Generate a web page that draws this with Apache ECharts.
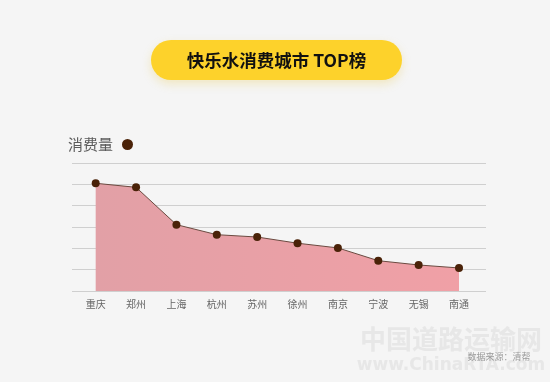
<!DOCTYPE html>
<html><head><meta charset="utf-8">
<script src="https://cdn.jsdelivr.net/npm/echarts@6/dist/echarts.min.js"></script>
<style>html,body{margin:0;padding:0;background:#f5f5f5}#c{width:550px;height:382px}</style>
</head><body><div id="c"></div>
<script>
var categories = ['重庆','郑州','上海','杭州','苏州','徐州','南京','宁波','无锡','南通'];
var consumption = [50.5, 48.6, 31.1, 26.4, 25.3, 22.4, 20.2, 14.2, 12.2, 10.8];
var seriesName = '消费量';
var titleText = '快乐水消费城市 TOP榜';
var sourceText = '数据来源：清帮';

var chart = echarts.init(document.getElementById('c'));
chart.setOption({
  backgroundColor: '#f5f5f5',
  animation: false,
  legend: {
    left: 63, top: 132, align: 'right', itemGap: 0,
    icon: 'circle', itemWidth: 11, itemHeight: 11,
    textStyle: {color: '#5a5a5a', fontSize: 15, fontFamily: 'Noto Sans CJK SC', padding: [0, 4, 0, 0]},
    data: [{name: seriesName, itemStyle: {color: '#4a2208'}}]
  },
  graphic: [
    {type: 'rect', shape: {x: 151, y: 40, width: 251, height: 40, r: 20},
     style: {fill: '#fdd22b', shadowBlur: 10, shadowOffsetY: 4, shadowColor: 'rgba(230,190,40,0.25)'}},
    {type: 'text', x: 276.5, y: 60, style: {text: titleText, fill: '#111', font: 'bold 17.5px "Noto Sans CJK SC"', textAlign: 'center', textVerticalAlign: 'middle'}},
    {type: 'text', x: 451, y: 339, style: {text: '中国道路运输网', fill: 'rgba(228,228,228,0.85)', font: 'bold 26px "Noto Sans CJK SC"', textAlign: 'center', textVerticalAlign: 'middle'}},
    {type: 'text', x: 451, y: 366, style: {text: 'www.ChinaRTA.com', fill: 'rgba(228,228,228,0.85)', font: 'bold 17px "DejaVu Sans"', textAlign: 'center', textVerticalAlign: 'middle'}},
    {type: 'text', x: 499, y: 357, style: {text: sourceText, fill: '#9a9a9a', font: '9px "Noto Sans CJK SC"', textAlign: 'center', textVerticalAlign: 'middle'}}
  ],
  grid: [
    {left: 72, right: 64, top: 163, bottom: 91},
    {left: 75.5, right: 70.8, top: 163, bottom: 91}
  ],
  xAxis: [
    {type: 'value', gridIndex: 0, show: false, min: 0, max: 1},
    {type: 'category', gridIndex: 1, data: categories, boundaryGap: true,
     axisLine: {show: false}, axisTick: {show: false},
     axisLabel: {color: '#666', fontSize: 10, margin: 8, fontFamily: 'Noto Sans CJK SC'}}
  ],
  yAxis: [
    {type: 'value', gridIndex: 0, min: 0, max: 60, interval: 10,
     axisLine: {show: false}, axisTick: {show: false}, axisLabel: {show: false},
     splitLine: {lineStyle: {color: '#cfcfcf', width: 1}}},
    {type: 'value', gridIndex: 1, min: 0, max: 60, interval: 10, show: false, splitLine: {show: false}}
  ],
  series: [{
    name: seriesName, type: 'line', xAxisIndex: 1, yAxisIndex: 1,
    data: consumption, symbol: 'circle', symbolSize: 8,
    lineStyle: {color: '#6b4a40', width: 1},
    itemStyle: {color: '#4a2208'},
    areaStyle: {color: new echarts.graphic.LinearGradient(0, 0, 1, 0, [
      {offset: 0, color: 'rgba(226,160,166,1)'}, {offset: 1, color: 'rgba(240,160,166,1)'}]), opacity: 1}
  }]
});
</script></body></html>
